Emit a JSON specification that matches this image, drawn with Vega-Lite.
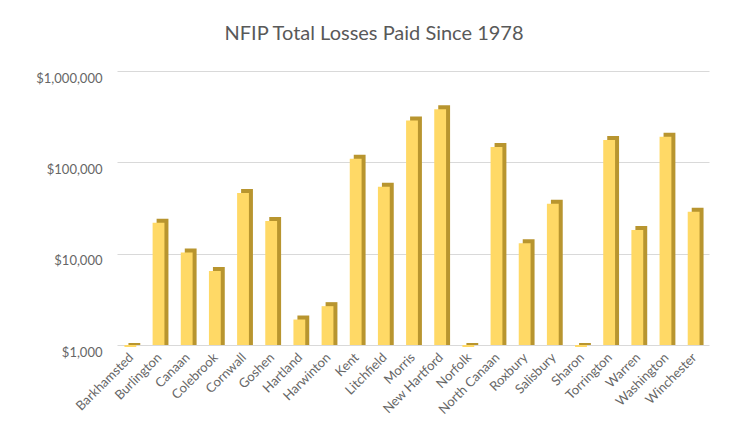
{
  "$schema": "https://vega.github.io/schema/vega-lite/v6.json",
  "width": 592,
  "height": 274,
  "autosize": "none",
  "padding": {"left": 117, "top": 71, "right": 36, "bottom": 96},
  "background": "white",
  "config": {
    "view": {"stroke": null},
    "font": "Lato"
  },
  "title": {
    "text": "NFIP Total Losses Paid Since 1978",
    "fontSize": 20,
    "font": "Lato",
    "fontWeight": "normal",
    "color": "#595959",
    "anchor": "middle",
    "dx": -39,
    "offset": 27
  },
  "data": {
    "values": [
      {"town": "Barkhamsted", "losses": 1000},
      {"town": "Burlington", "losses": 23000},
      {"town": "Canaan", "losses": 10800},
      {"town": "Colebrook", "losses": 6800},
      {"town": "Cornwall", "losses": 48500},
      {"town": "Goshen", "losses": 24000},
      {"town": "Hartland", "losses": 2000},
      {"town": "Harwinton", "losses": 2800},
      {"town": "Kent", "losses": 115000},
      {"town": "Litchfield", "losses": 57000},
      {"town": "Morris", "losses": 302000},
      {"town": "New Hartford", "losses": 400000},
      {"town": "Norfolk", "losses": 1000},
      {"town": "North Canaan", "losses": 155000},
      {"town": "Roxbury", "losses": 13700},
      {"town": "Salisbury", "losses": 37000},
      {"town": "Sharon", "losses": 1000},
      {"town": "Torrington", "losses": 185000},
      {"town": "Warren", "losses": 19100},
      {"town": "Washington", "losses": 200000},
      {"town": "Winchester", "losses": 30200}
    ]
  },
  "encoding": {
    "x": {
      "field": "town",
      "type": "nominal",
      "sort": null,
      "title": null,
      "axis": {
        "labelAngle": -45,
        "labelAlign": "right",
        "labelBaseline": "middle",
        "labelFontSize": 13,
        "labelColor": "#666666",
        "labelFont": "Lato",
        "labelPadding": 10,
        "domain": false,
        "ticks": false,
        "grid": false
      },
      "scale": {"paddingInner": 0.58, "paddingOuter": 0.3}
    },
    "y": {
      "field": "losses",
      "type": "quantitative",
      "title": null,
      "stack": null,
      "scale": {"type": "log", "domain": [1000, 1000000]},
      "axis": {
        "values": [1000, 10000, 100000, 1000000],
        "format": "$,.0f",
        "labelFontSize": 13,
        "labelColor": "#666666",
        "labelFont": "Lato",
        "labelOffset": 7,
        "labelPadding": 15,
        "domain": false,
        "ticks": false,
        "grid": true,
        "gridColor": "#D9D9D9",
        "gridWidth": 1.2
      }
    },
    "y2": {"datum": 1000}
  },
  "layer": [
    {
      "mark": {"type": "bar", "color": "#B8952F", "xOffset": 3, "yOffset": -2},
      "encoding": {}
    },
    {
      "mark": {"type": "bar", "color": "#FFD966", "xOffset": -1, "yOffset": 2},
      "encoding": {}
    }
  ]
}
